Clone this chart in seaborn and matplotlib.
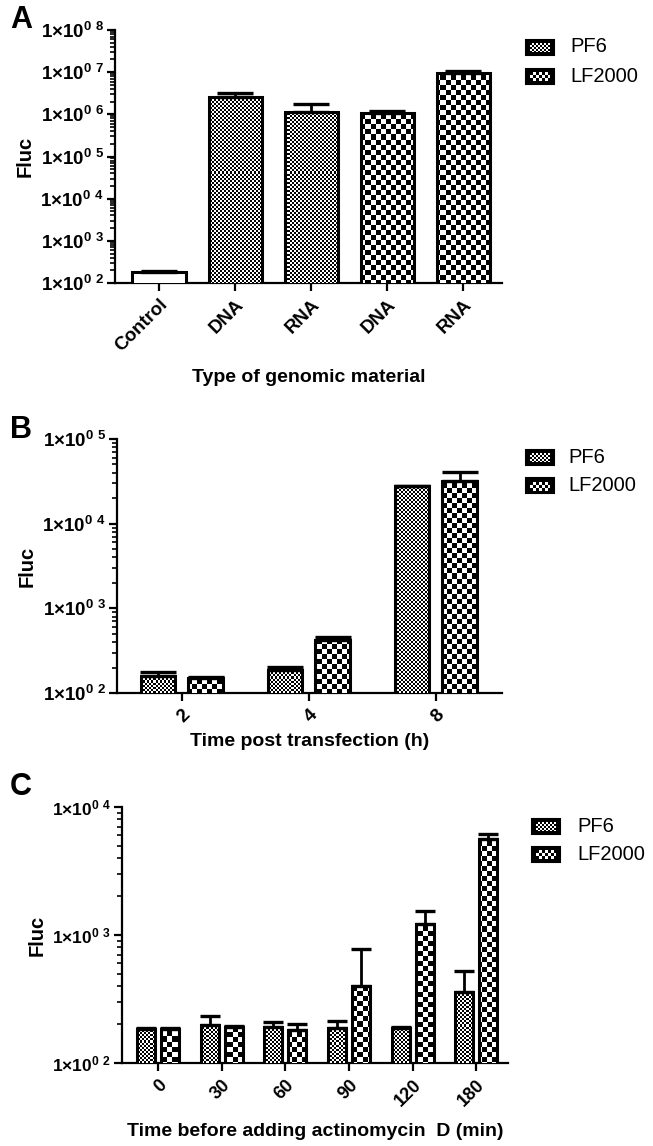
import numpy as np
import pandas as pd
import matplotlib
matplotlib.use("Agg")
import matplotlib.pyplot as plt
import seaborn as sns
from matplotlib.ticker import LogLocator, NullFormatter
from matplotlib.patches import Rectangle

# ---------------- data ----------------
a_keys = ["Control", "DNA_PF6", "RNA_PF6", "DNA_LF2000", "RNA_LF2000"]
a_labels = ["Control", "DNA", "RNA", "DNA", "RNA"]
a_groups = ["Control", "PF6", "PF6", "LF2000", "LF2000"]
a_means = [180, 2.6e6, 1.15e6, 1.1e6, 9.3e6]
a_err_top = [195, 3.2e6, 1.75e6, 1.2e6, 1.05e7]

b_times = ["2", "4", "8"]
b_pf6 = [160, 188, 27500]
b_pf6_top = [175, 204, 28000]
b_lf = [150, 428, 32000]
b_lf_top = [156, 464, 41000]

c_times = ["0", "30", "60", "90", "120", "180"]
c_pf6 = [185, 198, 191, 188, 187, 359]
c_pf6_top = [188, 233, 209, 213, 190, 524]
c_lf = [185, 190, 181, 400, 1220, 5640]
c_lf_top = [188, 195, 202, 778, 1540, 6150]

series = ["PF6", "LF2000"]

# ---------------- style ----------------
sns.set_theme(style="ticks")
plt.rcParams["font.family"] = ["Liberation Sans", "DejaVu Sans"]
plt.rcParams["font.weight"] = "bold"
plt.rcParams["mathtext.default"] = "regular"
for k in ["text.color", "axes.labelcolor", "xtick.color", "ytick.color",
          "axes.edgecolor"]:
    plt.rcParams[k] = "black"

W, H = 653, 1146
fig = plt.figure(figsize=(W / 100, H / 100), dpi=100)


def checker(h, w, s):
    i, j = np.indices((h, w))
    return ((i // s + j // s) % 2).astype(float)


PATTERN = {"PF6": 2, "LF2000": 5}


def fill_patterns(ax, container, group):
    bb = ax.get_position()
    pw, ph = int(round(bb.width * W)), int(round(bb.height * H))
    arr = checker(ph, pw, PATTERN[group])
    for bar in container:
        bar.set_facecolor("none")
        bar.set_edgecolor("black")
        bar.set_linewidth(2.2)
        bar.set_zorder(4)
        im = ax.imshow(arr, cmap="gray", vmin=0, vmax=1, extent=(0, 1, 0, 1),
                       transform=ax.transAxes, interpolation="nearest",
                       aspect="auto", zorder=3)
        im.set_clip_path(bar)


def style_axes(ax, decades, xlim, ytick_size=13.5):
    ax.set_yscale("log")
    ax.set_ylim(10 ** decades[0], 10 ** decades[-1])
    ax.set_xlim(*xlim)
    sns.despine(ax=ax)
    for s in ["left", "bottom"]:
        ax.spines[s].set_linewidth(1.6)
    ax.set_yticks([10.0 ** e for e in decades])
    ax.set_yticklabels(["1×10$^{0\\ %d}$" % e for e in decades],
                       fontsize=ytick_size, fontweight="bold")
    ax.yaxis.set_minor_locator(LogLocator(base=10, subs=np.arange(2, 10)))
    ax.yaxis.set_minor_formatter(NullFormatter())
    ax.tick_params(axis="y", which="major", length=6, width=1.6, pad=2)
    ax.tick_params(axis="y", which="minor", length=3.5, width=1.2)
    ax.tick_params(axis="x", which="major", length=6, width=1.6)
    ax.set_ylabel("Fluc", fontsize=14.5, fontweight="bold")


def add_errbars(ax, container, tops, capsize):
    for bar in container:
        cx = bar.get_x() + bar.get_width() / 2
        h = bar.get_height()
        idx = int(round(cx))
        top = tops[idx]
        ax.errorbar([cx], [h], yerr=[[0], [top - h]], fmt="none", ecolor="black",
                    elinewidth=2.0, capsize=capsize, capthick=2.4, zorder=5)


def legend(x0, y_pf, y_lf, xt):
    for grp, yc in [("PF6", y_pf), ("LF2000", y_lf)]:
        w, h = 28, 15
        rect = Rectangle((x0 / W, 1 - (yc + h / 2) / H), w / W, h / H,
                         transform=fig.transFigure, facecolor="black",
                         edgecolor="black", linewidth=1.5)
        fig.add_artist(rect)
        inner = checker(h - 6, w - 8, 2 if grp == "PF6" else 3)
        fig.figimage(inner, xo=int(x0 + 4), yo=int(H - (yc + h / 2) + 3),
                     cmap="gray", vmin=0, vmax=1, zorder=5)
        fig.text(xt / W, 1 - yc / H, grp, fontsize=14.5, fontweight="normal",
                 va="center", ha="left")


# ---------------- Panel A ----------------
axA = fig.add_axes([115 / W, 1 - 283 / H, (502 - 115) / W, (283 - 30) / H])
dfA = pd.DataFrame({"key": a_keys, "group": a_groups, "mean": a_means})
sns.barplot(data=dfA, x="key", y="mean", hue="group", order=a_keys,
            hue_order=["Control", "PF6", "LF2000"], dodge=False, width=0.7,
            errorbar=None, legend=False, ax=axA)
style_axes(axA, list(range(2, 9)), (-0.58, 4.51))
for cont, grp in zip(axA.containers, ["Control", "PF6", "LF2000"]):
    if grp == "Control":
        for bar in cont:
            bar.set_facecolor("white")
            bar.set_edgecolor("black")
            bar.set_linewidth(2.2)
            bar.set_zorder(4)
    else:
        fill_patterns(axA, cont, grp)
    add_errbars(axA, cont, a_err_top, 13)
axA.set_xticks(range(len(a_keys)))
axA.set_xticklabels(a_labels, rotation=45, ha="right", rotation_mode="anchor",
                    fontsize=13.5, fontweight="bold")
axA.set_xlabel("Type of genomic material", fontsize=14, fontweight="bold",
               labelpad=10)
legend(526, 47, 76, 570)

# ---------------- Panel B ----------------
axB = fig.add_axes([117 / W, 1 - 693 / H, (502 - 117) / W, (693 - 439) / H])
dfB = pd.DataFrame({"time": b_times * 2, "group": ["PF6"] * 3 + ["LF2000"] * 3,
                    "mean": b_pf6 + b_lf})
sns.barplot(data=dfB, x="time", y="mean", hue="group", order=b_times,
            hue_order=series, width=0.75, gap=0.27, errorbar=None,
            legend=False, ax=axB)
style_axes(axB, [2, 3, 4, 5], (-0.51, 2.52))
for cont, grp, tops in zip(axB.containers, series, [b_pf6_top, b_lf_top]):
    fill_patterns(axB, cont, grp)
    add_errbars(axB, cont, tops, 13)
axB.set_xticks(range(len(b_times)))
axB.set_xticklabels(b_times, rotation=45, ha="right", rotation_mode="anchor",
                    fontsize=13.5, fontweight="bold")
axB.set_xlabel("Time post transfection (h)", fontsize=14, fontweight="bold",
               labelpad=5)
legend(526, 457, 486, 568)

# ---------------- Panel C ----------------
axC = fig.add_axes([122 / W, 1 - 1063 / H, (508 - 122) / W, (1063 - 807) / H])
dfC = pd.DataFrame({"time": c_times * 2, "group": ["PF6"] * 6 + ["LF2000"] * 6,
                    "mean": c_pf6 + c_lf})
sns.barplot(data=dfC, x="time", y="mean", hue="group", order=c_times,
            hue_order=series, width=0.755, gap=0.25, errorbar=None,
            legend=False, ax=axC)
style_axes(axC, [2, 3, 4], (-0.57, 5.5), ytick_size=12.5)
for cont, grp, tops in zip(axC.containers, series, [c_pf6_top, c_lf_top]):
    fill_patterns(axC, cont, grp)
    add_errbars(axC, cont, tops, 7)
axC.set_xticks(range(len(c_times)))
axC.set_xticklabels(c_times, rotation=45, ha="right", rotation_mode="anchor",
                    fontsize=13, fontweight="bold")
axC.set_xlabel("Time before adding actinomycin  D (min)", fontsize=14,
               fontweight="bold", labelpad=10)
legend(532, 826, 854, 577)

# panel letters
for letter, y in [("A", 20), ("B", 430), ("C", 787)]:
    fig.text(10 / W, 1 - y / H, letter, fontsize=22, fontweight="bold",
             va="center", ha="left")

fig.savefig("out.png", dpi=100)
